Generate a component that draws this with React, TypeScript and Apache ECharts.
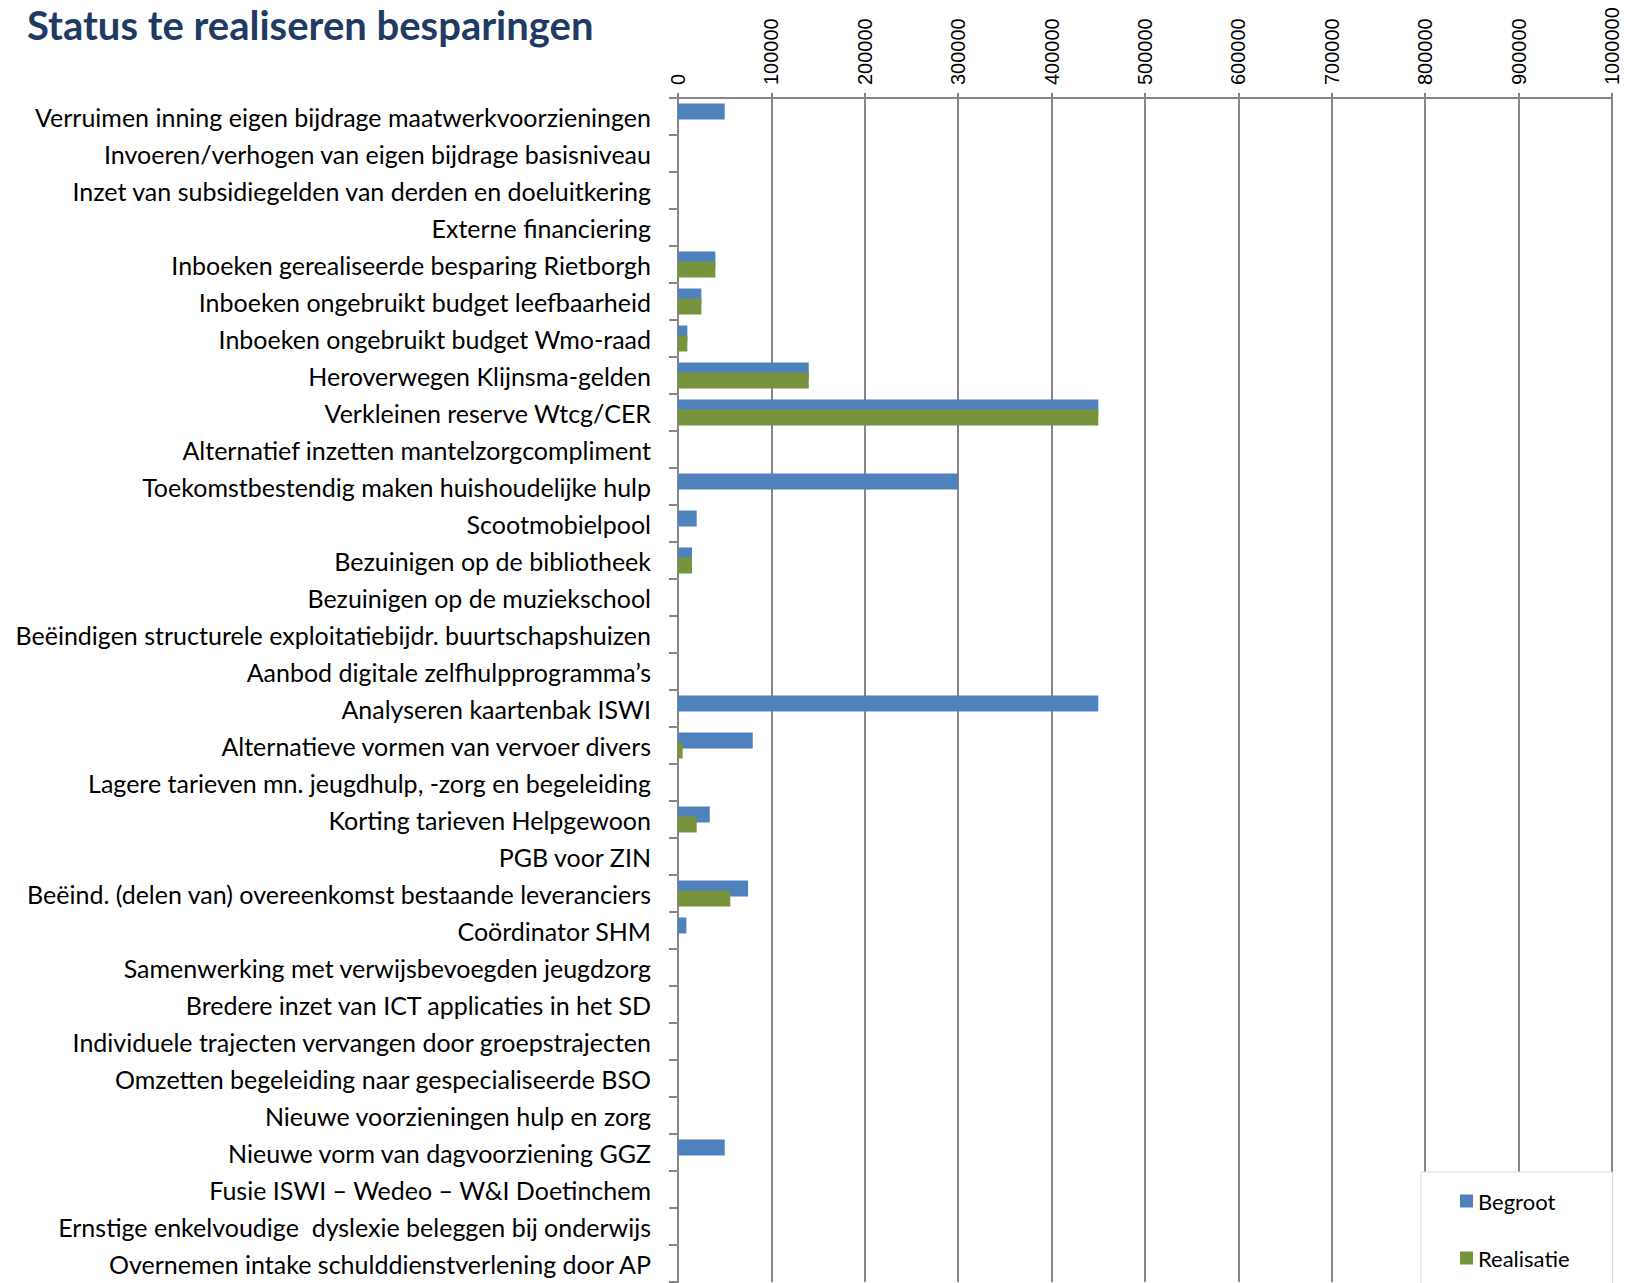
import React, { useEffect, useRef } from "react";
import * as echarts from "echarts";

const categories: string[] = [
  "Verruimen inning eigen bijdrage maatwerkvoorzieningen",
  "Invoeren/verhogen van eigen bijdrage basisniveau",
  "Inzet van subsidiegelden van derden en doeluitkering",
  "Externe financiering",
  "Inboeken gerealiseerde besparing Rietborgh",
  "Inboeken ongebruikt budget leefbaarheid",
  "Inboeken ongebruikt budget Wmo-raad",
  "Heroverwegen Klijnsma-gelden",
  "Verkleinen reserve Wtcg/CER",
  "Alternatief inzetten mantelzorgcompliment",
  "Toekomstbestendig maken huishoudelijke hulp",
  "Scootmobielpool",
  "Bezuinigen op de bibliotheek",
  "Bezuinigen op de muziekschool",
  "Beëindigen structurele exploitatiebijdr. buurtschapshuizen",
  "Aanbod digitale zelfhulpprogramma’s",
  "Analyseren kaartenbak ISWI",
  "Alternatieve vormen van vervoer divers",
  "Lagere tarieven mn. jeugdhulp, -zorg en begeleiding",
  "Korting tarieven Helpgewoon",
  "PGB voor ZIN",
  "Beëind. (delen van) overeenkomst bestaande leveranciers",
  "Coördinator SHM",
  "Samenwerking met verwijsbevoegden jeugdzorg",
  "Bredere inzet van ICT applicaties in het SD",
  "Individuele trajecten vervangen door groepstrajecten",
  "Omzetten begeleiding naar gespecialiseerde BSO",
  "Nieuwe voorzieningen hulp en zorg",
  "Nieuwe vorm van dagvoorziening GGZ",
  "Fusie ISWI – Wedeo – W&I Doetinchem",
  "Ernstige enkelvoudige  dyslexie beleggen bij onderwijs",
  "Overnemen intake schulddienstverlening door AP",
];

const begroot: number[] = [
  50000, 0, 0, 0, 40000, 25000, 10000, 140000, 450000, 0,
  300000, 20000, 15000, 0, 0, 0, 450000, 80000, 0, 34000,
  0, 75000, 9000, 0, 0, 0, 0, 0, 50000, 0,
  0, 0,
];

const realisatie: number[] = [
  0, 0, 0, 0, 40000, 25000, 10000, 140000, 450000, 0,
  0, 0, 15000, 0, 0, 0, 0, 5000, 0, 20000,
  0, 56000, 0, 0, 0, 0, 0, 0, 0, 0,
  0, 0,
];

const seriesNames: string[] = ["Begroot", "Realisatie"];
const axisMin = 0;
const axisMax = 1000000;
const axisInterval = 100000;

export default function App() {
  const ref = useRef<HTMLDivElement>(null);
  useEffect(() => {
    if (!ref.current) return;
    const chart = echarts.init(ref.current, undefined, { renderer: "svg" });
    const gridColor = "#868686";
    chart.setOption({
      animation: false,
      backgroundColor: "#ffffff",
      title: {
        text: "Status te realiseren besparingen",
        left: 22,
        top: 0,
        textStyle: {
          fontFamily: "Lato",
          fontWeight: "bold",
          fontSize: 40,
          color: "#1F3B63",
        },
      },
      legend: {
        orient: "vertical",
        left: 1421,
        top: 1172,
        height: 400,
        data: seriesNames,
        icon: "rect",
        itemWidth: 13,
        itemHeight: 13,
        itemGap: 35,
        selectedMode: false,
        backgroundColor: "#ffffff",
        borderColor: "#d9d9d9",
        borderWidth: 1,
        padding: [18, 43, 30, 39],
        textStyle: { fontFamily: "Lato", fontSize: 22, color: "#000000" },
      },
      grid: {
        left: 678,
        top: 98,
        right: 33,
        bottom: 1,
        containLabel: false,
        outerBoundsMode: "none",
      },
      xAxis: {
        type: "value",
        position: "top",
        min: axisMin,
        max: axisMax,
        interval: axisInterval,
        axisLine: { show: true, lineStyle: { color: gridColor, width: 2 } },
        axisTick: { show: true, length: 5, lineStyle: { color: gridColor, width: 2 } },
        splitLine: { show: true, lineStyle: { color: gridColor, width: 2 } },
        axisLabel: {
          rotate: -90,
          margin: 13,
          fontFamily: "Liberation Sans",
          fontSize: 20,
          color: "#000000",
          showMinLabel: true,
          showMaxLabel: true,
          formatter: (v: number) => String(v),
        },
      },
      yAxis: {
        type: "category",
        inverse: true,
        data: categories,
        axisLine: { show: true, lineStyle: { color: gridColor, width: 2 } },
        axisTick: { show: true, length: 9, lineStyle: { color: gridColor, width: 2 } },
        axisLabel: {
          interval: 0,
          margin: 27,
          fontFamily: "Lato",
          fontSize: 25,
          color: "#000000",
        },
      },
      series: [
        {
          name: seriesNames[0],
          type: "bar",
          data: begroot,
          barWidth: 16,
          barGap: "-37.5%",
          itemStyle: { color: "#4F81BD" },
        },
        {
          name: seriesNames[1],
          type: "bar",
          data: realisatie,
          barWidth: 16,
          barGap: "-37.5%",
          itemStyle: { color: "#77933C" },
        },
      ],
    });
    return () => chart.dispose();
  }, []);
  return (
    <div
      ref={ref}
      style={{ position: "fixed", left: 0, top: 0, width: 1645, height: 1283 }}
    />
  );
}
